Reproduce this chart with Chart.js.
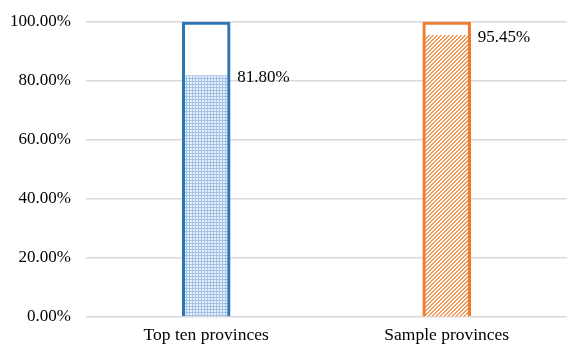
<!DOCTYPE html>
<html lang="en">
<head>
    <meta charset="UTF-8">
    <title>Provinces share</title>
    <script src="https://cdn.jsdelivr.net/npm/chart.js"></script>
    <style>
        body {
            margin: 0;
            padding: 0;
            background-color: #fff;
        }

        .chart-container {
            width: 567px;
            height: 345px;
        }
    </style>
</head>
<body>
    <div class="chart-container">
        <canvas id="barChart"></canvas>
    </div>

    <script>
        // data
        const categories = ["Top ten provinces", "Sample provinces"];
        const shares = [0.818, 0.9545];
        const totals = [1, 1];
        const yTicks = [0, 0.2, 0.4, 0.6, 0.8, 1];

        const blue = "#2e75b6";
        const orange = "#ed7d31";
        const serif = "'Liberation Serif', 'Times New Roman', serif";

        // small grid pattern for the blue bar
        function gridPattern() {
            const c = document.createElement("canvas");
            c.width = 3;
            c.height = 3;
            const g = c.getContext("2d");
            g.fillStyle = "#e8f0fa";
            g.fillRect(0, 0, 3, 3);
            g.fillStyle = "#a3c0e6";
            g.fillRect(0, 0, 3, 1);
            g.fillRect(0, 0, 1, 3);
            return g.createPattern(c, "repeat");
        }

        // diagonal hatching for the orange bar
        function hatchPattern() {
            const c = document.createElement("canvas");
            c.width = 4;
            c.height = 4;
            const g = c.getContext("2d");
            g.fillStyle = "#fff";
            g.fillRect(0, 0, 4, 4);
            g.fillStyle = "#f09a5c";
            for (let i = 0; i < 4; i++) {
                g.fillRect(3 - i, i, 2, 1);
                if (i === 0) g.fillRect(0, 0, 1, 1);
            }
            return g.createPattern(c, "repeat");
        }

        const valueLabels = {
            id: "valueLabels",
            afterDatasetsDraw(chart) {
                const ctx = chart.ctx;
                const meta = chart.getDatasetMeta(1);
                ctx.save();
                ctx.font = "17px " + serif;
                ctx.fillStyle = "#000";
                ctx.textAlign = "left";
                ctx.textBaseline = "middle";
                meta.data.forEach((bar, i) => {
                    const txt = (shares[i] * 100).toFixed(2) + "%";
                    ctx.fillText(txt, bar.x + bar.width / 2 + 8, bar.y + 2);
                });
                ctx.restore();
            }
        };

        const canvas = document.getElementById("barChart");
        const fills = [gridPattern(), hatchPattern()];

        new Chart(canvas, {
            type: "bar",
            data: {
                labels: categories,
                datasets: [
                    {
                        data: totals,
                        backgroundColor: "rgba(0,0,0,0)",
                        borderColor: [blue, orange],
                        borderWidth: 2.5,
                        borderSkipped: "bottom",
                        grouped: false,
                        barThickness: 48
                    },
                    {
                        data: shares,
                        backgroundColor: fills,
                        borderWidth: 0,
                        grouped: false,
                        barThickness: 46
                    }
                ]
            },
            options: {
                responsive: true,
                maintainAspectRatio: false,
                animation: false,
                layout: {
                    padding: { top: 21, right: -6, left: -5, bottom: -1 }
                },
                plugins: {
                    legend: { display: false },
                    tooltip: { enabled: false }
                },
                scales: {
                    x: {
                        grid: { display: false },
                        border: { display: false },
                        ticks: {
                            color: "#000",
                            padding: 0,
                            font: { family: serif, size: 17.5 }
                        }
                    },
                    y: {
                        min: 0,
                        max: 1,
                        afterBuildTicks: (axis) => {
                            axis.ticks = yTicks.map(v => ({ value: v }));
                        },
                        grid: { color: "#d9d9d9", lineWidth: 1.5, drawTicks: false },
                        border: { display: false },
                        ticks: {
                            color: "#000",
                            padding: 15,
                            font: { family: serif, size: 17, lineHeight: 0.8 },
                            callback: (v) => (v * 100).toFixed(2) + "%"
                        }
                    }
                }
            },
            plugins: [valueLabels]
        });
    </script>
</body>
</html>
